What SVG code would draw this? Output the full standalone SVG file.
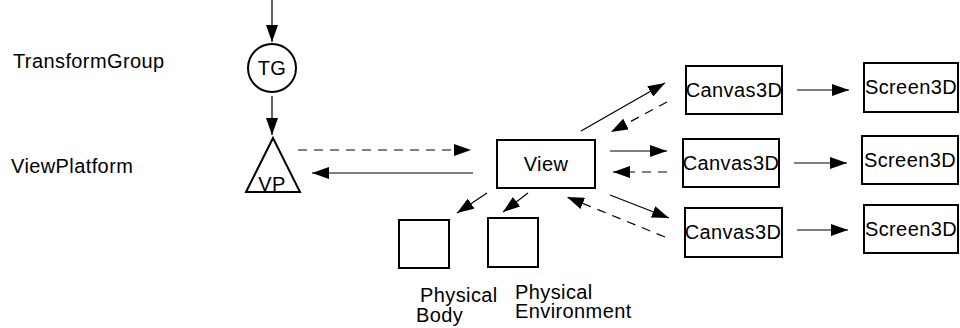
<svg xmlns="http://www.w3.org/2000/svg" width="960" height="328" viewBox="0 0 960 328">
<defs>
<marker id="ah" markerUnits="userSpaceOnUse" markerWidth="17" markerHeight="12" refX="17" refY="6" orient="auto">
<path d="M0,0 L17,6 L0,12 Z" fill="#000"/>
</marker>
<style>
.t{font-family:"Liberation Sans",Arial,sans-serif;font-size:20px;letter-spacing:0.4px;fill:#000}
.b{fill:#fff;stroke:#000;stroke-width:2}
.c{stroke:#000;stroke-width:1.2;fill:none;marker-end:url(#ah)}
.d{stroke-dasharray:9,7}
</style>
</defs>
<rect width="960" height="328" fill="#fff"/>
<text class="t" x="13" y="68">TransformGroup</text>
<text class="t" x="11" y="173">ViewPlatform</text>
<g id="connectors">
<line class="c" x1="272" y1="0" x2="272" y2="42"/>
<line class="c" x1="272" y1="96" x2="272" y2="135"/>
<line class="c d" x1="298" y1="150" x2="471" y2="150"/>
<line class="c" x1="473" y1="173" x2="312" y2="173"/>
<line class="c" x1="487" y1="193" x2="457" y2="213"/>
<line class="c" x1="528" y1="193" x2="503" y2="212"/>
<line class="c" x1="581" y1="131" x2="665" y2="83"/>
<line class="c d" x1="667" y1="102" x2="611" y2="132"/>
<line class="c" x1="610" y1="151" x2="667" y2="151"/>
<line class="c d" x1="667" y1="172" x2="613" y2="172"/>
<line class="c" x1="610" y1="195" x2="669" y2="218"/>
<line class="c d" x1="665" y1="237" x2="567" y2="197"/>
<line class="c" x1="797" y1="90" x2="849" y2="90"/>
<line class="c" x1="794" y1="163" x2="847" y2="163"/>
<line class="c" x1="797" y1="230" x2="848" y2="230"/>
</g>
<g id="tg"><circle class="b" cx="272" cy="68" r="24"/><text class="t" x="272" y="75" text-anchor="middle">TG</text></g>
<g id="vp"><polygon class="b" points="273,138 246,192 300,192"/><text class="t" x="272" y="191" text-anchor="middle">VP</text></g>
<g id="view"><rect class="b" x="497" y="140" width="98" height="48"/><text class="t" x="546" y="171" text-anchor="middle">View</text></g>
<g id="body"><rect class="b" x="399" y="220" width="50" height="48"/><text class="t" x="420" y="302">Physical</text><text class="t" x="416" y="322">Body</text></g>
<g id="env"><rect class="b" x="488" y="218" width="50" height="49"/><text class="t" x="515" y="299">Physical</text><text class="t" x="515" y="318">Environment</text></g>
<g id="canvas1"><rect class="b" x="686" y="66" width="96" height="48"/><text class="t" x="734" y="97" text-anchor="middle">Canvas3D</text></g>
<g id="canvas2"><rect class="b" x="683" y="139" width="96" height="48"/><text class="t" x="731" y="170" text-anchor="middle">Canvas3D</text></g>
<g id="canvas3"><rect class="b" x="685" y="208" width="97" height="49"/><text class="t" x="733" y="239" text-anchor="middle">Canvas3D</text></g>
<g id="screen1"><rect class="b" x="864" y="63" width="94" height="49"/><text class="t" x="911" y="94" text-anchor="middle">Screen3D</text></g>
<g id="screen2"><rect class="b" x="862" y="136" width="96" height="48"/><text class="t" x="910" y="167" text-anchor="middle">Screen3D</text></g>
<g id="screen3"><rect class="b" x="864" y="205" width="94" height="48"/><text class="t" x="911" y="236" text-anchor="middle">Screen3D</text></g>
</svg>
